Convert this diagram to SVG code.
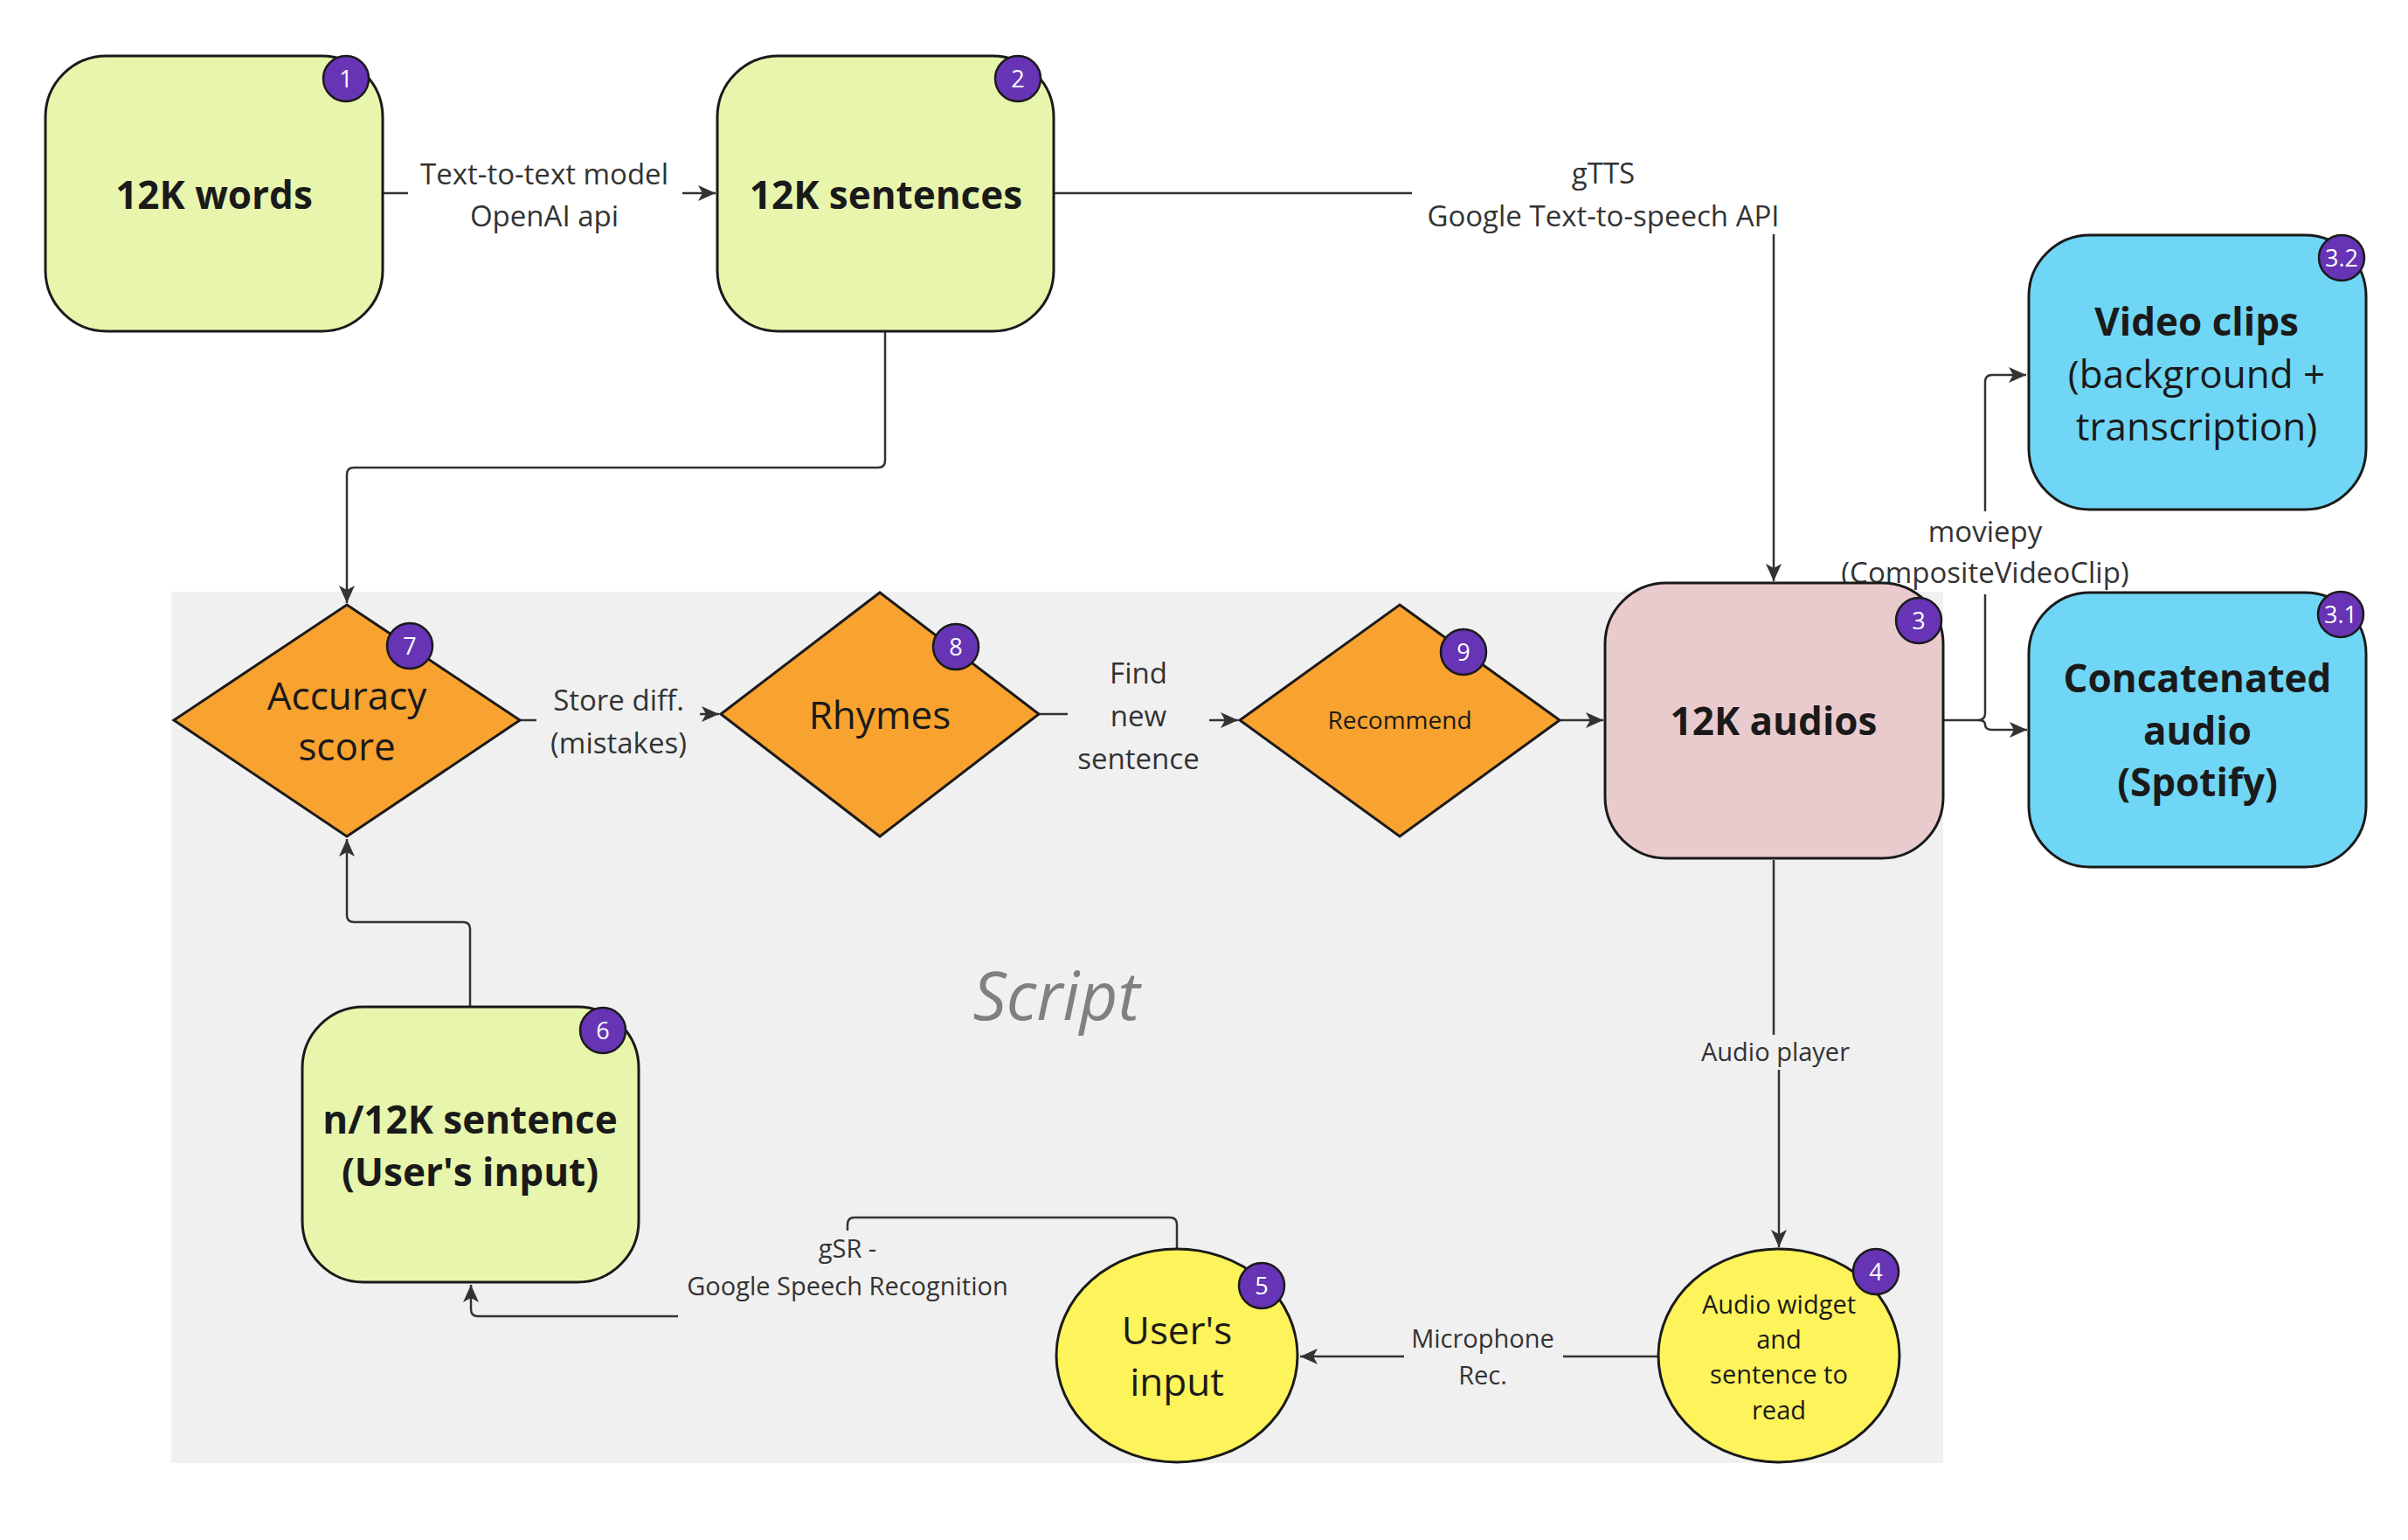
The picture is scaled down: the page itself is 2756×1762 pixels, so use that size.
<svg xmlns="http://www.w3.org/2000/svg" width="2756" height="1762" viewBox="0 0 2756 1762">
<style>
.t{font-family:"Open Sans","Liberation Sans",sans-serif;text-anchor:middle;fill:#1a1a1a}
.b{font-weight:700;font-size:44px}
.r{font-size:44px}
.l{font-family:"Open Sans","Liberation Sans",sans-serif;text-anchor:middle;fill:#333;font-size:33px}
.s{font-family:"Open Sans","Liberation Sans",sans-serif;text-anchor:middle;fill:#333;font-size:29px}
.n{stroke:#1a1a1a;stroke-width:3}
.g{fill:#e8f5ac}
.o{fill:#f8a22f}
.badge circle{fill:#6634b4;stroke:#1a1a1a;stroke-width:2.5}
.badge text{font-family:"Open Sans","Liberation Sans",sans-serif;font-size:27px;fill:#fff;text-anchor:middle}
.c{fill:none;stroke:#333;stroke-width:2.5}
</style>
<defs>
<marker id="a" markerUnits="userSpaceOnUse" markerWidth="22" markerHeight="20" refX="20" refY="10" orient="auto">
<path d="M0,1 L20,10 L0,19 L5,10 z" fill="#333"/>
</marker>
</defs>
<rect width="2756" height="1762" fill="#fff"/>
<rect id="script-area" x="196" y="677" width="2028" height="997" fill="#f0f0f0"/>
<text x="1209" y="1167" font-family="'Open Sans','Liberation Sans',sans-serif" font-style="italic" font-size="76" fill="#808080" text-anchor="middle">Script</text>

<g id="connectors">
<path class="c" d="M438,221 H467"/>
<path class="c" d="M781,221 H819" marker-end="url(#a)"/>
<text class="l" x="623" y="211">Text-to-text model</text>
<text class="l" x="623" y="259">OpenAI api</text>

<path class="c" d="M1206,221 H1616"/>
<path class="c" d="M2030,268 V665" marker-end="url(#a)"/>
<text class="l" x="1835" y="210">gTTS</text>
<text class="l" x="1835" y="259">Google Text-to-speech API</text>

<path class="c" d="M1013,380 V527 Q1013,535 1005,535 H405 Q397,535 397,543 V690" marker-end="url(#a)"/>
<path class="c" d="M538,1151 V1063 Q538,1055 530,1055 H405 Q397,1055 397,1047 V960" marker-end="url(#a)"/>

<path class="c" d="M595,824 H614"/>
<path class="c" d="M801,817 H823" marker-end="url(#a)"/>
<text class="l" x="708" y="813">Store diff.</text>
<text class="l" x="708" y="862">(mistakes)</text>

<path class="c" d="M1189,817 H1222"/>
<path class="c" d="M1384,824 H1417" marker-end="url(#a)"/>
<text class="l" x="1303" y="782">Find</text>
<text class="l" x="1303" y="831">new</text>
<text class="l" x="1303" y="880">sentence</text>

<path class="c" d="M1786,824 H1835" marker-end="url(#a)"/>

<path class="c" d="M2224,824 H2264 Q2272,824 2272,816 V680"/>
<path class="c" d="M2272,585 V437 Q2272,429 2280,429 H2319" marker-end="url(#a)"/>
<path class="c" d="M2264,824 Q2272,824 2272,829 Q2272,835 2280,835 H2320" marker-end="url(#a)"/>
<text class="l" x="2272" y="620">moviepy</text>
<text class="l" x="2272" y="667">(CompositeVideoClip)</text>

<path class="c" d="M2030,984 V1184"/>
<path class="c" d="M2036,1224 V1427" marker-end="url(#a)"/>
<text class="s" x="2032" y="1214">Audio player</text>

<path class="c" d="M1897,1552 H1789"/>
<path class="c" d="M1607,1552 H1488" marker-end="url(#a)"/>
<text class="s" x="1697" y="1542">Microphone</text>
<text class="s" x="1697" y="1584">Rec.</text>

<path class="c" d="M1347,1429 V1401 Q1347,1393 1339,1393 H978 Q970,1393 970,1401 V1408"/>
<path class="c" d="M776,1506 H547 Q539,1506 539,1498 V1470" marker-end="url(#a)"/>
<text class="s" x="970" y="1439">gSR -</text>
<text class="s" x="970" y="1482">Google Speech Recognition</text>
</g>

<g id="node1">
<rect class="n g" x="52" y="64" width="386" height="315" rx="70"/>
<text class="t b" x="245" y="239">12K words</text>
<g class="badge"><circle cx="396" cy="90" r="26"/><text x="396" y="100">1</text></g>
</g>

<g id="node2">
<rect class="n g" x="821" y="64" width="385" height="315" rx="70"/>
<text class="t b" x="1014" y="239">12K sentences</text>
<g class="badge"><circle cx="1165" cy="90" r="26"/><text x="1165" y="100">2</text></g>
</g>

<g id="node3">
<rect class="n" fill="#eacbcd" x="1837" y="667" width="387" height="315" rx="70"/>
<text class="t b" x="2030" y="841">12K audios</text>
<g class="badge"><circle cx="2196" cy="710" r="26"/><text x="2196" y="720">3</text></g>
</g>

<g id="node3-1">
<rect class="n" fill="#70d6f5" x="2322" y="678" width="386" height="314" rx="70"/>
<text class="t b" x="2515" y="792">Concatenated</text>
<text class="t b" x="2515" y="852">audio</text>
<text class="t b" x="2515" y="911">(Spotify)</text>
<g class="badge"><circle cx="2679" cy="703" r="26"/><text x="2679" y="713">3.1</text></g>
</g>

<g id="node3-2">
<rect class="n" fill="#70d6f5" x="2322" y="269" width="386" height="314" rx="70"/>
<text class="t b" x="2514" y="384">Video clips</text>
<text class="t r" x="2514" y="444">(background +</text>
<text class="t r" x="2514" y="504">transcription)</text>
<g class="badge"><circle cx="2680" cy="295" r="26"/><text x="2680" y="305">3.2</text></g>
</g>

<g id="node4">
<ellipse class="n" fill="#fdf35a" cx="2036" cy="1551" rx="138" ry="122"/>
<text class="t" font-size="29" x="2036" y="1503">Audio widget</text>
<text class="t" font-size="29" x="2036" y="1543">and</text>
<text class="t" font-size="29" x="2036" y="1583">sentence to</text>
<text class="t" font-size="29" x="2036" y="1624">read</text>
<g class="badge"><circle cx="2147" cy="1455" r="26"/><text x="2147" y="1465">4</text></g>
</g>

<g id="node5">
<ellipse class="n" fill="#fdf35a" cx="1347" cy="1551" rx="138" ry="122"/>
<text class="t r" x="1347" y="1538">User's</text>
<text class="t r" x="1347" y="1597">input</text>
<g class="badge"><circle cx="1444" cy="1471" r="26"/><text x="1444" y="1481">5</text></g>
</g>

<g id="node6">
<rect class="n g" x="346" y="1152" width="385" height="315" rx="70"/>
<text class="t b" x="538" y="1297">n/12K sentence</text>
<text class="t b" x="538" y="1357">(User's input)</text>
<g class="badge"><circle cx="690" cy="1179" r="26"/><text x="690" y="1189">6</text></g>
</g>

<g id="node7">
<polygon class="n o" points="397,692 595,824 397,957 199,824"/>
<text class="t r" x="397" y="812">Accuracy</text>
<text class="t r" x="397" y="870">score</text>
<g class="badge"><circle cx="469" cy="739" r="26"/><text x="469" y="749">7</text></g>
</g>

<g id="node8">
<polygon class="n o" points="1007,678 1189,817 1007,957 825,817"/>
<text class="t r" x="1007" y="834">Rhymes</text>
<g class="badge"><circle cx="1094" cy="740" r="26"/><text x="1094" y="750">8</text></g>
</g>

<g id="node9">
<polygon class="n o" points="1602,692 1785,824 1602,957 1419,824"/>
<text class="t" font-size="28" x="1602" y="834">Recommend</text>
<g class="badge"><circle cx="1675" cy="746" r="26"/><text x="1675" y="756">9</text></g>
</g>
</svg>
